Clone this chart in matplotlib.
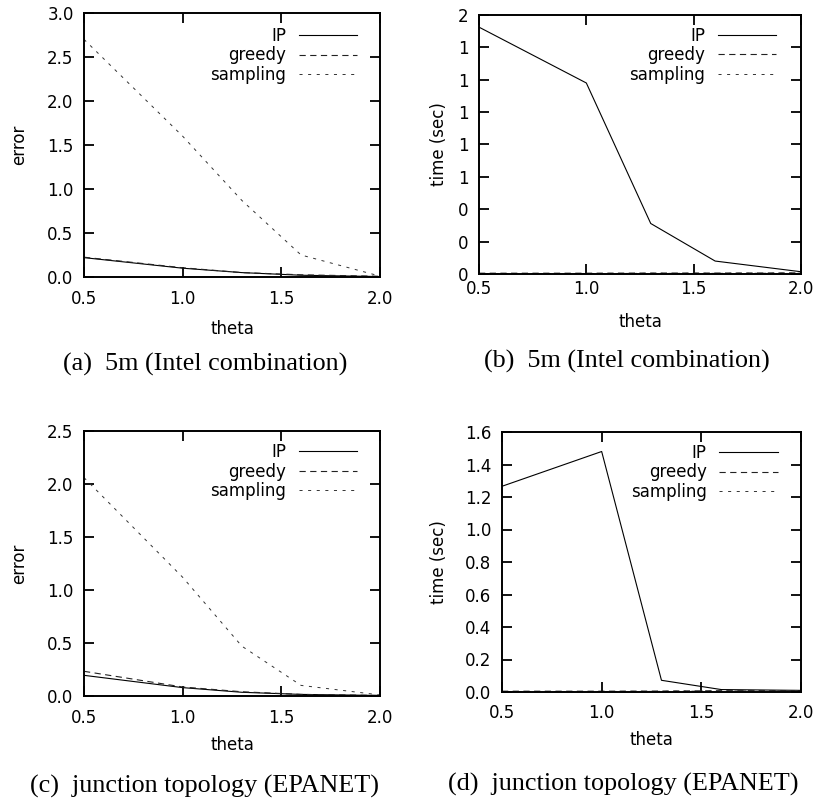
import matplotlib.pyplot as plt
from matplotlib.ticker import FixedLocator, FixedFormatter

plt.rcParams['font.family'] = 'DejaVu Sans'
plt.rcParams['font.size'] = 12
plt.rcParams['lines.scale_dashes'] = False

theta = [0.5, 1.0, 1.3, 1.6, 2.0]

# 5m (Intel combination)
err_ip_a = [0.22, 0.10, 0.05, 0.02, 0.005]
err_greedy_a = [0.225, 0.105, 0.05, 0.025, 0.008]
err_sampling_a = [2.70, 1.60, 0.87, 0.25, 0.01]
time_ip_b = [1.525, 1.18, 0.312, 0.08, 0.014]
time_greedy_b = [0.005, 0.005, 0.006, 0.006, 0.007]
time_sampling_b = [0.003, 0.003, 0.004, 0.004, 0.005]

# junction topology (EPANET)
err_ip_c = [0.195, 0.079, 0.035, 0.015, 0.005]
err_greedy_c = [0.233, 0.085, 0.04, 0.015, 0.005]
err_sampling_c = [2.06, 1.12, 0.47, 0.10, 0.01]
time_ip_d = [1.266, 1.48, 0.072, 0.015, 0.01]
time_greedy_d = [0.005, 0.005, 0.006, 0.008, 0.009]
time_sampling_d = [0.003, 0.003, 0.004, 0.006, 0.007]

xticks = [0.5, 1.0, 1.5, 2.0]
xticklabels = ['0.5', '1.0', '1.5', '2.0']
err_ticks_a = [0.0, 0.5, 1.0, 1.5, 2.0, 2.5, 3.0]
err_ticks_c = [0.0, 0.5, 1.0, 1.5, 2.0, 2.5]
time_ticks = [0.0, 0.2, 0.4, 0.6, 0.8, 1.0, 1.2, 1.4, 1.6]
time_labels_b = ['0', '0', '0', '1', '1', '1', '1', '1', '2']
time_labels_d = ['0.0', '0.2', '0.4', '0.6', '0.8', '1.0', '1.2', '1.4', '1.6']

captions = ['(a)  5m (Intel combination)', '(b)  5m (Intel combination)',
            '(c)  junction topology (EPANET)', '(d)  junction topology (EPANET)']

W, H = 815, 802
fig = plt.figure(figsize=(W / 100, H / 100), dpi=100)


def px_axes(left, top, right, bottom):
    return fig.add_axes([left / W, 1 - bottom / H, (right - left) / W, (bottom - top) / H])


def panel(ax, ip, greedy, sampling, yticks, ylabels, ylabel, ylab_x, xlab_y, xpad, leg_top):
    ax.plot(theta, ip, color='black', lw=0.8, label='IP')
    ax.plot(theta, greedy, color='#222222', lw=0.8, dashes=(4.5, 3.2), label='greedy')
    ax.plot(theta, sampling, color='#333333', lw=0.7, dashes=(2.2, 4.0), label='sampling')
    ax.set_xlim(0.5, 2.0)
    ax.set_ylim(yticks[0], yticks[-1])
    ax.xaxis.set_major_locator(FixedLocator(xticks))
    ax.xaxis.set_major_formatter(FixedFormatter(xticklabels))
    ax.yaxis.set_major_locator(FixedLocator(yticks))
    ax.yaxis.set_major_formatter(FixedFormatter(ylabels))
    ax.tick_params(direction='in', top=True, right=True, length=7, width=1.3)
    ax.tick_params(axis='x', pad=xpad)
    ax.tick_params(axis='y', pad=7.5)
    for s in ax.spines.values():
        s.set_linewidth(1.4)
    ax.set_xlabel('theta')
    ax.set_ylabel(ylabel)
    ax.xaxis.set_label_coords(0.5, xlab_y)
    ax.yaxis.set_label_coords(ylab_x, 0.5)
    ax.legend(loc='upper right', bbox_to_anchor=(0.922, leg_top), frameon=False,
              markerfirst=False, handlelength=3.5, handletextpad=0.75,
              labelspacing=0.1, borderpad=0, borderaxespad=0)


ax_a = px_axes(84, 13, 380, 277)
panel(ax_a, err_ip_a, err_greedy_a, err_sampling_a, err_ticks_a,
      ['%.1f' % v for v in err_ticks_a], 'error', -0.19, -0.163, 9.5, 0.948)

ax_b = px_axes(479, 15, 801, 274)
panel(ax_b, time_ip_b, time_greedy_b, time_sampling_b, time_ticks,
      time_labels_b, 'time (sec)', -0.096, -0.15, 4.5, 0.955)

ax_c = px_axes(84, 431, 380, 696)
panel(ax_c, err_ip_c, err_greedy_c, err_sampling_c, err_ticks_c,
      ['%.1f' % v for v in err_ticks_c], 'error', -0.19, -0.151, 9.5, 0.955)

ax_d = px_axes(502, 432, 801, 692)
panel(ax_d, time_ip_d, time_greedy_d, time_sampling_d, time_ticks,
      time_labels_d, 'time (sec)', -0.18, -0.15, 9, 0.955)

cap_pos = [(205, 364), (627, 361), (205, 786), (623, 784)]
for (cx, cy), text in zip(cap_pos, captions):
    fig.text(cx / W, 1 - cy / H, text, ha='center', va='center',
             family='Liberation Serif', fontsize=18.8)

fig.savefig('out.png', dpi=100)
